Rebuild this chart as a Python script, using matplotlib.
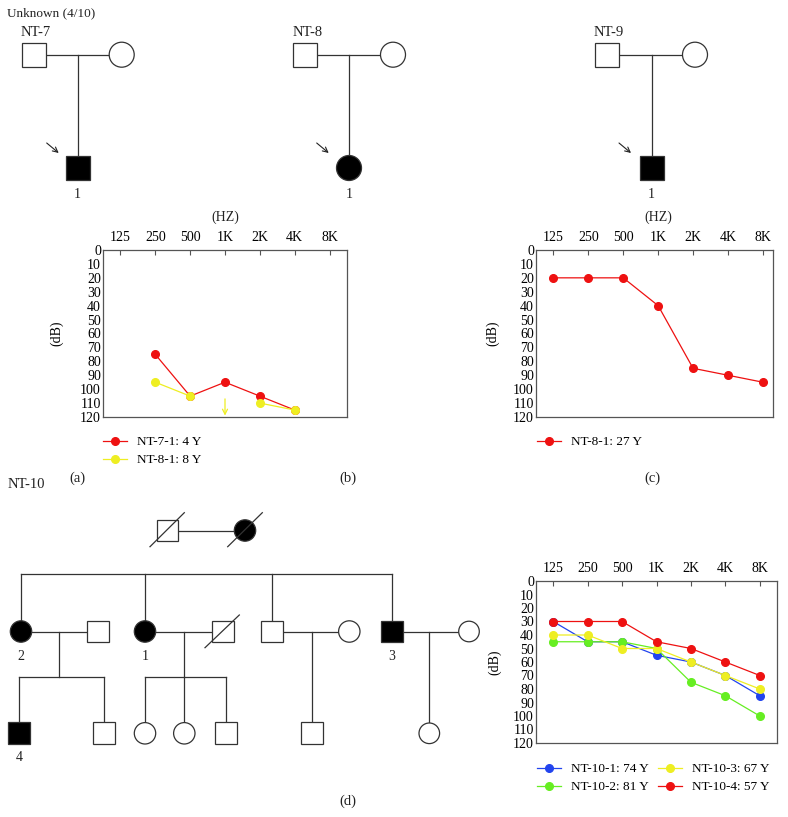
import numpy as np
import matplotlib
matplotlib.use("Agg")
import matplotlib.pyplot as plt
from matplotlib.patches import Rectangle, Circle

plt.rcParams['font.family'] = ['Liberation Serif', 'DejaVu Serif']

# audiogram data (dB HL), NaN = not measured
freqs = ['125', '250', '500', '1K', '2K', '4K', '8K']
a_nt7_1 = [np.nan, 75, 105, 95, 105, 115, np.nan]
a_nt8_1 = [np.nan, 95, 105, np.nan, 110, 115, np.nan]
a_noresp_freq = 3          # 1K: no response for NT-8-1
c_nt8_1 = [20, 20, 20, 40, 85, 90, 95]
d_nt10_1 = [30, 45, 45, 55, 60, 70, 85]
d_nt10_2 = [45, 45, 45, 50, 75, 85, 100]
d_nt10_3 = [40, 40, 50, 50, 60, 70, 80]
d_nt10_4 = [30, 30, 30, 45, 50, 60, 70]
db_ticks = list(range(0, 121, 10))

RED = '#ee1111'
YEL = '#eeee22'
GRN = '#66ee22'
BLU = '#2244ee'
INK = '#333333'

W, H = 788, 817
fig = plt.figure(figsize=(W / 100, H / 100), dpi=100)

# pedigree canvas in pixel coordinates
ped = fig.add_axes([0, 0, 1, 1])
ped.set_xlim(0, W)
ped.set_ylim(H, 0)
ped.axis('off')


def square(x, y, s, filled=False):
    ped.add_patch(Rectangle((x - s / 2, y - s / 2), s, s, fc='black' if filled else 'white',
                            ec=INK, lw=0.9, zorder=3))


def circle(x, y, r, filled=False):
    ped.add_patch(Circle((x, y), r, fc='black' if filled else 'white', ec=INK, lw=0.9, zorder=3))


def line(xs, ys, z=2):
    ped.plot(xs, ys, color=INK, lw=0.9, zorder=z)


def label(x, y, s, size=10, ha='center'):
    ped.text(x, y, s, ha=ha, va='center', fontsize=size, color='#222222')


def arrow(x0, y0, x1, y1):
    ped.annotate('', xy=(x1, y1), xytext=(x0, y0),
                 arrowprops=dict(arrowstyle='->', lw=0.8, color='#222222',
                                 shrinkA=0, shrinkB=0, mutation_scale=9))


# top row pedigrees
label(7, 13, 'Unknown (4/10)', size=9.5, ha='left')
for name, sx, cx, dx, child, ax0 in [('NT-7', 33.7, 121.7, 77.7, 'sq', 46.7),
                                     ('NT-8', 305.3, 393, 349, 'ci', 316.7),
                                     ('NT-9', 607, 695, 651.7, 'sq', 619)]:
    label(sx - 13, 32, name, size=10.5, ha='left')
    square(sx, 54.7, 24)
    circle(cx, 54.7, 12.5)
    line([sx, cx], [54.7, 54.7])
    line([dx, dx], [54.7, 160])
    if child == 'sq':
        square(dx, 168, 24, filled=True)
    else:
        circle(dx, 168, 12.5, filled=True)
    label(dx, 194, '1')
    arrow(ax0, 143, ax0 + 12, 153)

# NT-10 pedigree
label(8, 484, 'NT-10', size=10.5, ha='left')
s2, r2 = 21.7, 10.7
square(167.5, 530.5, s2)
circle(245, 530.5, r2, filled=True)
line([167.5, 245], [530.5, 530.5])
line([150, 184.3], [546.7, 512.7], z=4)
line([227.7, 262.3], [546.7, 512.7], z=4)

g2, g3 = 631.5, 733.3
line([21, 391.7], [574, 574])
for x in [21, 145, 271.7, 391.7]:
    line([x, x], [574, g2])

circle(21, g2, r2, filled=True)
label(21, 656, '2')
square(98.3, g2, s2)
line([21, 98.3], [g2, g2])
line([59.3, 59.3], [g2, 677.3])
line([19, 104], [677.3, 677.3])
for x in [19, 104]:
    line([x, x], [677.3, g3])
square(19, g3, s2, filled=True)
label(19, 757.5, '4')
square(104, g3, s2)

circle(145, g2, r2, filled=True)
label(145, 656, '1')
square(222.7, g2, s2)
line([205, 239.3], [647.7, 615], z=4)
line([145, 222.7], [g2, g2])
line([184.3, 184.3], [g2, 677.3])
line([145, 225.7], [677.3, 677.3])
for x in [145, 184.3, 225.7]:
    line([x, x], [677.3, g3])
circle(145, g3, r2)
circle(184.3, g3, r2)
square(225.7, g3, s2)

square(271.7, g2, s2)
circle(349.3, g2, r2)
line([271.7, 349.3], [g2, g2])
line([311.7, 311.7], [g2, g3])
square(311.7, g3, s2)

square(391.7, g2, s2, filled=True)
label(391.7, 657, '3')
circle(469, g2, 10.3)
line([391.7, 469], [g2, g2])
line([429.3, 429.3], [g2, g3])
circle(429.3, g3, 10.3)

# panel letters
label(77, 478, '(a)', size=10.5)
label(348, 478, '(b)', size=10.5)
label(652, 478, '(c)', size=10.5)
label(348, 801.5, '(d)', size=10.5)


def audiogram(x0, x1, y0, y1, xmax=6.5):
    ax = fig.add_axes([x0 / W, 1 - y1 / H, (x1 - x0) / W, (y1 - y0) / H])
    ax.set_xlim(-0.5, xmax)
    ax.set_ylim(120, 0)
    ax.set_xticks(range(len(freqs)))
    ax.set_xticklabels(freqs)
    ax.set_yticks(db_ticks)
    ax.xaxis.tick_top()
    ax.tick_params(axis='x', direction='in', length=3.5, width=0.8, color='#555555',
                   pad=4, labelsize=10)
    ax.tick_params(axis='y', length=0, pad=1.5, labelsize=10)
    for sp in ax.spines.values():
        sp.set_color('#555555')
        sp.set_linewidth(0.9)
    return ax


def series(ax, vals, color, name):
    ax.plot(range(len(freqs)), vals, color=color, lw=0.9, marker='o', ms=5.5,
            mec=color, mfc=color, label=name)


def legend(ax, x, y, ncol=1):
    ax.legend(loc='upper left', bbox_to_anchor=(x / W, 1 - y / H),
              bbox_transform=fig.transFigure, frameon=False, fontsize=9.5, ncol=ncol,
              handlelength=1.8, handletextpad=0.75, borderpad=0, borderaxespad=0,
              labelspacing=0.45, columnspacing=0.75)


# (a)/(b)
ax_a = audiogram(103, 347, 250, 417)
series(ax_a, a_nt7_1, RED, 'NT-7-1: 4 Y')
series(ax_a, a_nt8_1, YEL, 'NT-8-1: 8 Y')
ax_a.annotate('', xy=(a_noresp_freq, 119), xytext=(a_noresp_freq, 107),
              arrowprops=dict(arrowstyle='->', lw=0.9, color=YEL,
                              shrinkA=0, shrinkB=0, mutation_scale=9))
legend(ax_a, 103, 436)
label(225, 217, '(HZ)')
ped.text(57, 333, '(dB)', rotation=90, ha='center', va='center', fontsize=10)

# (c)
ax_c = audiogram(536, 773, 250, 417, xmax=6.29)
series(ax_c, c_nt8_1, RED, 'NT-8-1: 27 Y')
legend(ax_c, 537, 436)
label(658, 217, '(HZ)')
ped.text(493, 333, '(dB)', rotation=90, ha='center', va='center', fontsize=10)

# (d)
ax_d = audiogram(536, 777, 581, 743)
series(ax_d, d_nt10_1, BLU, 'NT-10-1: 74 Y')
series(ax_d, d_nt10_2, GRN, 'NT-10-2: 81 Y')
series(ax_d, d_nt10_3, YEL, 'NT-10-3: 67 Y')
series(ax_d, d_nt10_4, RED, 'NT-10-4: 57 Y')
legend(ax_d, 537, 763, ncol=2)
ped.text(495, 662, '(dB)', rotation=90, ha='center', va='center', fontsize=10)

fig.savefig('out.png', dpi=100)
